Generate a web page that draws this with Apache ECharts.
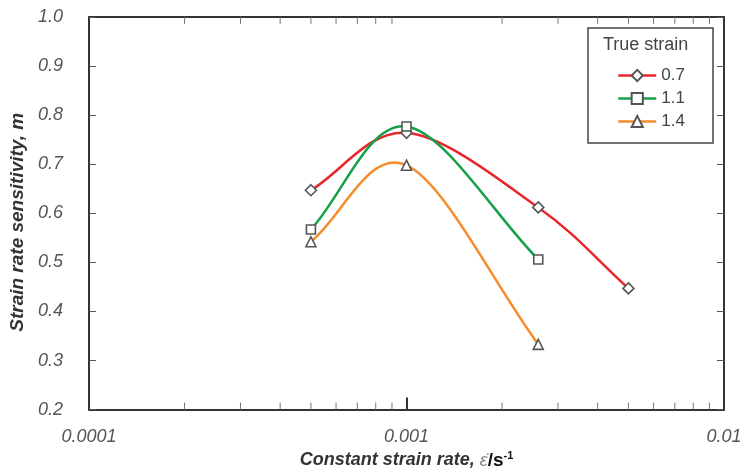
<!DOCTYPE html>
<html><head><meta charset="utf-8">
<script src="https://cdn.jsdelivr.net/npm/echarts@6/dist/echarts.min.js"></script>
<style>html,body{margin:0;padding:0;background:#fff}#c{width:746px;height:475px}</style>
</head><body><div id="c"></div>
<script>
const seriesNames = ['0.7', '1.1', '1.4'];
const strain07 = [[0.0005, 0.647], [0.001, 0.764], [0.0026, 0.612], [0.005, 0.447]];
const strain11 = [[0.0005, 0.567], [0.001, 0.777], [0.0026, 0.506]];
const strain14 = [[0.0005, 0.542], [0.001, 0.698], [0.0026, 0.333]];
const xTickLabels = {0.0001: '0.0001', 0.001: '0.001', 0.01: '0.01'};
const minorX = [0.0002,0.0003,0.0004,0.0005,0.0006,0.0007,0.0008,0.0009,0.002,0.003,0.004,0.005,0.006,0.007,0.008,0.009];
const colors = ['#e8262b', '#17a04b', '#f78c2b'];

const chart = echarts.init(document.getElementById('c'));
const font = 'Liberation Sans, Arial, sans-serif';
const axisLine = {show: true, lineStyle: {color: '#333', width: 2}};
const diamond = 'path://M0,-1L1,0L0,1L-1,0Z';

function markerSeries(name, data, color, sym, size) {
  return {
    name, type: 'line', data, symbol: sym, symbolSize: size,
    xAxisIndex: 0, yAxisIndex: 0,
    lineStyle: {color, width: 2.5, opacity: 0},
    itemStyle: {color: '#fff', borderColor: '#555', borderWidth: 1.6},
    emphasis: {disabled: true}, z: 4
  };
}
// smooth curve (Catmull-Rom style) through the data points, positioned by the axes
function curveSeries(data, color) {
  return {
    type: 'custom', xAxisIndex: 0, yAxisIndex: 0, silent: true, z: 3,
    data: data,
    renderItem: (params, api) => {
      const i = params.dataIndex;
      if (i >= data.length - 1) return null;
      const P = data.map(d => api.coord(d));
      const tan = k => {
        const a = P[Math.max(k - 1, 0)], b = P[Math.min(k + 1, P.length - 1)];
        const f = (k === 0 || k === P.length - 1) ? 1 : 0.5;
        return [(b[0] - a[0]) * f, (b[1] - a[1]) * f];
      };
      const t0 = tan(i), t1 = tan(i + 1);
      const s = 1 / 3;
      return {
        type: 'bezierCurve',
        shape: {
          x1: P[i][0], y1: P[i][1], x2: P[i + 1][0], y2: P[i + 1][1],
          cpx1: P[i][0] + t0[0] * s, cpy1: P[i][1] + t0[1] * s,
          cpx2: P[i + 1][0] - t1[0] * s, cpy2: P[i + 1][1] - t1[1] * s
        },
        style: {stroke: color, lineWidth: 2.5, fill: null}
      };
    }
  };
}

chart.setOption({
  animation: false,
  grid: {left: 88, right: 22, top: 17, bottom: 65},
  xAxis: [{
    type: 'log', logBase: 10, min: 0.0001, max: 0.01,
    axisLine, axisTick: {show: true, inside: true, length: 12, lineStyle: {color: '#333', width: 2}},
    splitLine: {show: false},
    axisLabel: {margin: 18, fontFamily: font, fontSize: 18, fontStyle: 'italic', color: '#555',
      formatter: v => xTickLabels[+v.toPrecision(3)] || ''},
    name: '{a|Constant strain rate, }{e|ε̇}{b|/s}{s|-1}',
    nameLocation: 'middle', nameGap: 37,
    nameTextStyle: {rich: {
      a: {fontFamily: font, fontSize: 18, fontWeight: 'bold', fontStyle: 'italic', color: '#333'},
      e: {fontFamily: font, fontSize: 18, fontStyle: 'italic', color: '#888'},
      b: {fontFamily: font, fontSize: 19, fontWeight: 'bold', color: '#111'},
      s: {fontFamily: font, fontSize: 11, fontWeight: 'bold', color: '#111', verticalAlign: 'top', padding: [0,0,9,0]}
    }}
  }, {
    type: 'log', logBase: 10, min: 0.0001, max: 0.01, position: 'top',
    axisLine, axisTick: {show: false}, axisLabel: {show: false}, splitLine: {show: false}
  }],
  yAxis: [{
    type: 'value', min: 0.2, max: 1.0, interval: 0.1,
    axisLine, axisTick: {show: true, inside: true, length: 7, lineStyle: {color: '#555', width: 1}},
    splitLine: {show: false},
    axisLabel: {margin: 26, fontFamily: font, fontSize: 18, fontStyle: 'italic', color: '#555',
      formatter: v => v.toFixed(1)},
    name: '{a|Strain rate sensitivity, m}',
    nameLocation: 'middle', nameGap: 62, nameRotate: 90,
    nameTextStyle: {padding: [0, 18, 0, 0], rich: {
      a: {fontFamily: font, fontSize: 19, fontWeight: 'bold', fontStyle: 'italic', color: '#333'}
    }}
  }, {
    type: 'value', min: 0.2, max: 1.0, interval: 0.1, position: 'right',
    axisLine, axisTick: {show: true, inside: true, length: 7, lineStyle: {color: '#555', width: 1}},
    axisLabel: {show: false}, splitLine: {show: false}
  }],
  legend: {
    data: seriesNames, orient: 'vertical', left: 612, top: 62, itemWidth: 38, itemHeight: 14, itemGap: 6,
    textStyle: {fontFamily: font, fontSize: 17, color: '#444'}, selectedMode: false,
    lineStyle: {opacity: 1, width: 2.5}, z: 20
  },
  graphic: [
    {type: 'rect', shape: {x: 588, y: 28, width: 125, height: 115}, style: {fill: '#fff', stroke: '#444', lineWidth: 1.5}, z: 1},
    {type: 'text', left: 603, top: 36, style: {text: 'True strain', font: '18px Liberation Sans, Arial, sans-serif', fill: '#444'}, z: 2}
  ],
  series: [
    markerSeries(seriesNames[0], strain07, colors[0], diamond, 11),
    markerSeries(seriesNames[1], strain11, colors[1], 'rect', 9),
    markerSeries(seriesNames[2], strain14, colors[2], 'triangle', 10),
    curveSeries(strain07, colors[0]),
    curveSeries(strain11, colors[1]),
    curveSeries(strain14, colors[2]),
    {
      type: 'custom', xAxisIndex: 0, yAxisIndex: 0, silent: true, z: 2,
      data: minorX.map(v => [v]),
      renderItem: (params, api) => {
        const b = api.coord([api.value(0), 0.2]);
        const t = api.coord([api.value(0), 1.0]);
        const st = {stroke: '#777', lineWidth: 1};
        return {type: 'group', children: [
          {type: 'line', shape: {x1: b[0], y1: b[1], x2: b[0], y2: b[1] - 7}, style: st},
          {type: 'line', shape: {x1: t[0], y1: t[1], x2: t[0], y2: t[1] + 7}, style: st}
        ]};
      }
    }
  ]
});
</script></body></html>
